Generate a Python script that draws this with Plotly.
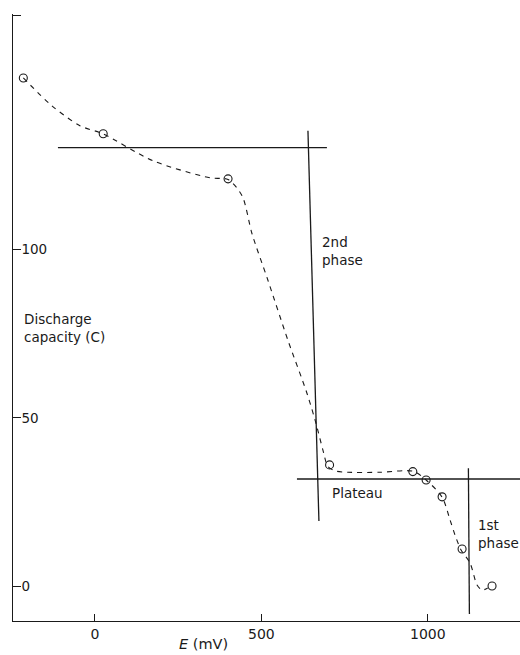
import plotly.graph_objects as go

# Measured points: electrode potential (mV) vs discharge capacity (C)
E_points = [-215, 25, 400, 705, 955, 995, 1043, 1103, 1193]
Q_points = [151, 134.4, 121, 36, 34, 31.5, 26.5, 11, 0]

# Hand-drawn guide curve through the measurements
E_curve = [-215, -129, -45, 24, 174, 346, 400, 442, 472, 520, 580, 637, 664, 685,
           700, 722, 760, 857, 956, 995, 1043, 1067, 1082, 1100, 1127, 1148, 1163, 1180]
Q_curve = [151, 142.7, 136.8, 134.4, 126.4, 121.3, 120.8, 116.0, 104.7, 90.8, 73.0, 57.3, 48.4, 40.4,
           35.5, 34.2, 33.8, 33.8, 34.1, 31.5, 26.4, 19.6, 15.1, 10.7, 6.8, 0.3, -1.2, -0.6]

# Construction lines
upper_E = [-111, 697]
upper_Q = [130.3, 130.3]
second_E = [640, 673]
second_Q = [135.3, 19.3]
plateau_E = [607, 1300]
plateau_Q = [31.8, 31.8]
first_E = [1122, 1125]
first_Q = [35, -8.3]

y_ticks = [0, 50, 100, 169.5]
y_labels = ["0", "50", "100", ""]
x_ticks = [0, 500, 1000]
x_labels = ["0", "500", "1000"]

ink = "#1a1a1a"
font = dict(family="DejaVu Sans", size=13.5, color=ink)

fig = go.Figure()
for ex, qy in [(upper_E, upper_Q), (second_E, second_Q), (plateau_E, plateau_Q), (first_E, first_Q)]:
    fig.add_trace(go.Scatter(x=ex, y=qy, mode="lines", line=dict(color=ink, width=1.3),
                             hoverinfo="skip", showlegend=False))
fig.add_trace(go.Scatter(x=E_curve, y=Q_curve, mode="lines",
                         line=dict(color=ink, width=1.1, dash="5px,5px", shape="spline", smoothing=0.8),
                         hoverinfo="skip", showlegend=False))
fig.add_trace(go.Scatter(x=E_points, y=Q_points, mode="markers",
                         marker=dict(symbol="circle-open", size=8, color=ink, line=dict(width=1.1)),
                         showlegend=False))

annots = [
    dict(x=-219, y=76.7, text="Discharge<br>capacity (C)"),
    dict(x=676, y=99.7, text="2nd<br>phase"),
    dict(x=706, y=27.6, text="Plateau"),
    dict(x=1146, y=15.6, text="1st<br>phase"),
]
for a in annots:
    fig.add_annotation(x=a["x"], y=a["y"], text=a["text"], xref="x", yref="y",
                       xanchor="left", yanchor="middle", align="left", showarrow=False,
                       font=font)
fig.add_annotation(x=326, y=-0.038, xref="x", yref="paper", text="<i>E</i> (mV)",
                   xanchor="center", yanchor="middle", showarrow=False,
                   font=dict(family="DejaVu Sans", size=14.5, color=ink))

fig.update_layout(
    width=520, height=655,
    margin=dict(l=13, r=0, t=14, b=34),
    paper_bgcolor="white", plot_bgcolor="white",
    font=font,
    xaxis=dict(range=[-246, 1277], showgrid=False, zeroline=False, showline=True,
               linecolor=ink, linewidth=1.3, ticks="inside", ticklen=7, tickcolor=ink,
               tickvals=x_ticks, ticktext=x_labels, tickfont=dict(font, size=14)),
    yaxis=dict(range=[-10.4, 170], showgrid=False, zeroline=False, showline=True,
               linecolor=ink, linewidth=1.3, ticks="inside", ticklen=8, tickcolor=ink,
               tickvals=y_ticks, ticktext=y_labels, ticklabelposition="inside", tickfont=font),
)

fig.write_html("out.html")
